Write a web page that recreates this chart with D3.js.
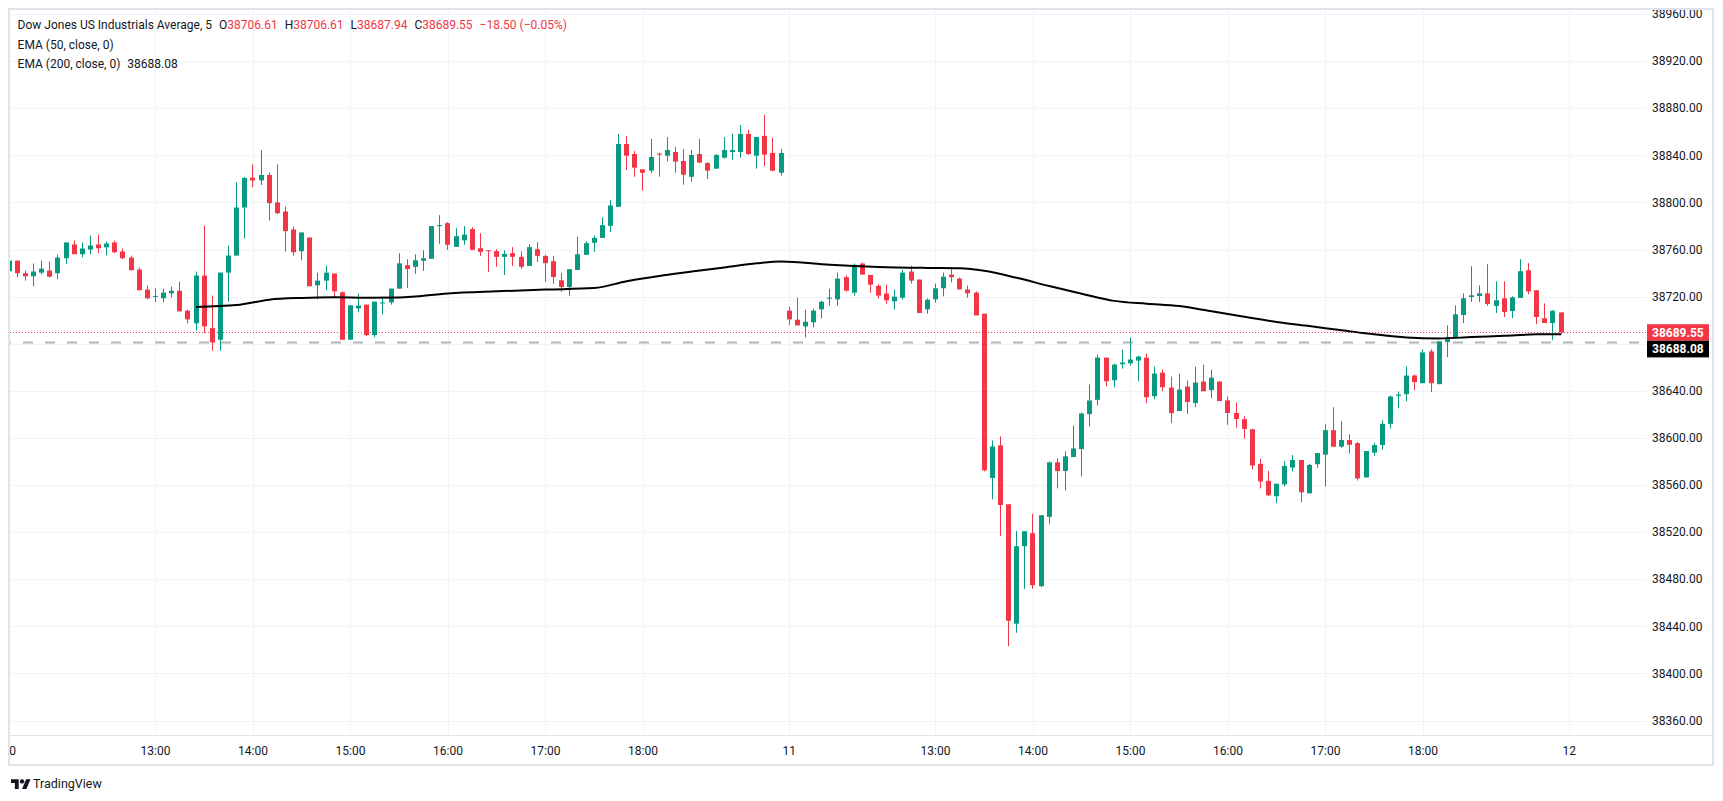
<!DOCTYPE html>
<meta charset='utf-8'>
<style>
  body { margin: 0; background: #ffffff; font-family: Roboto, 'Noto Sans', Arial, sans-serif; }
  .axisY text, .axisX text { fill: #131722; font-size: 12px; }
  .legend text { font-size: 12px; fill: #131722; }
</style>
<body>
<div id='viz'></div>
<script src='https://d3js.org/d3.v7.min.js'></script>
<script>

// Two sessions of 5 minute bars, 11:30 to 19:25
var days = ['10', '11'];
var nextDay = '12';
var hourTicks = ['13:00', '14:00', '15:00', '16:00', '17:00', '18:00'];

var opens = [
  38741.6, 38750.6, 38739.9, 38737.3, 38740.4, 38742.1, 38739.9, 38752.6, 38764.3, 38756.0, 38760.0, 38764.3,
  38761.9, 38766.0, 38758.3, 38753.2, 38743.0, 38726.0, 38719.8, 38718.6, 38722.8, 38725.0, 38708.1, 38697.3,
  38737.9, 38693.3, 38683.4, 38740.4, 38754.9, 38795.7, 38821.0, 38818.7, 38823.3, 38800.0, 38792.3, 38777.0,
  38758.6, 38770.2, 38729.6, 38733.6, 38739.6, 38723.7, 38683.4, 38710.0, 38713.2, 38687.4, 38714.2, 38715.1,
  38726.8, 38746.7, 38745.3, 38750.4, 38752.1, 38779.9, 38782.4, 38762.3, 38767.8, 38777.3, 38761.1, 38759.4,
  38758.6, 38753.8, 38756.9, 38753.8, 38746.1, 38760.3, 38754.6, 38750.1, 38733.9, 38728.2, 38742.7, 38755.5,
  38765.7, 38769.9, 38780.1, 38796.3, 38849.6, 38841.1, 38828.1, 38827.0, 38841.4, 38839.7, 38842.8, 38835.2,
  38821.8, 38841.1, 38833.5, 38828.7, 38838.0, 38842.8, 38842.8, 38858.2, 38839.7, 38856.5, 38842.0, 38825.2,
  38708.1, 38700.4, 38694.7, 38698.2, 38709.2, 38718.6, 38717.7, 38736.5, 38723.4, 38748.1, 38738.4, 38729.1,
  38722.6, 38716.0, 38719.1, 38741.3, 38734.5, 38709.2, 38717.7, 38727.1, 38738.7, 38735.3, 38726.0, 38723.4,
  38705.5, 38566.0, 38593.7, 38543.7, 38442.3, 38508.1, 38519.1, 38474.2, 38533.0, 38579.3, 38571.9, 38583.8,
  38590.6, 38620.2, 38632.4, 38668.2, 38649.0, 38662.6, 38663.4, 38665.7, 38668.2, 38635.5, 38655.5, 38642.8,
  38622.9, 38643.6, 38629.6, 38647.9, 38640.6, 38647.9, 38631.9, 38621.2, 38615.9, 38607.4, 38578.0, 38563.6,
  38550.5, 38560.6, 38574.9, 38581.3, 38553.0, 38577.7, 38585.8, 38606.6, 38592.6, 38598.2, 38595.6, 38566.5,
  38587.5, 38594.0, 38612.0, 38635.8, 38637.2, 38653.0, 38646.5, 38673.5, 38645.7, 38681.4, 38684.5, 38704.4,
  38719.7, 38720.6, 38722.8, 38712.1, 38718.6, 38707.8, 38718.9, 38742.4, 38725.4, 38701.6, 38697.6, 38706.61
];
var highs = [
  38752.0, 38750.6, 38742.1, 38748.1, 38750.6, 38749.8, 38755.7, 38766.0, 38767.7, 38766.0, 38771.9, 38772.8,
  38766.8, 38767.7, 38760.9, 38754.9, 38744.7, 38729.4, 38726.8, 38726.8, 38728.5, 38732.8, 38709.0, 38741.3,
  38780.4, 38720.9, 38740.4, 38763.4, 38817.0, 38821.6, 38832.3, 38844.3, 38825.5, 38832.3, 38796.6, 38779.6,
  38774.5, 38770.2, 38740.4, 38746.4, 38739.6, 38724.5, 38712.6, 38722.6, 38713.2, 38715.7, 38720.0, 38726.8,
  38756.9, 38751.8, 38756.0, 38759.4, 38779.9, 38789.2, 38783.3, 38778.2, 38779.9, 38779.0, 38773.9, 38759.4,
  38760.3, 38759.4, 38762.0, 38758.6, 38764.5, 38766.2, 38755.5, 38754.6, 38740.1, 38743.3, 38770.8, 38767.1,
  38772.0, 38787.5, 38802.0, 38858.2, 38856.5, 38843.7, 38828.1, 38853.9, 38842.3, 38855.6, 38847.1, 38845.4,
  38844.5, 38853.9, 38834.3, 38841.1, 38855.6, 38858.4, 38865.8, 38861.6, 38855.6, 38874.3, 38854.8, 38845.4,
  38711.5, 38719.1, 38708.9, 38709.8, 38716.6, 38726.8, 38740.4, 38737.9, 38748.1, 38748.9, 38738.4, 38730.8,
  38730.2, 38726.0, 38742.7, 38746.1, 38734.5, 38718.6, 38731.1, 38740.4, 38745.0, 38736.2, 38729.4, 38724.3,
  38705.5, 38597.9, 38601.3, 38543.7, 38521.1, 38520.8, 38535.5, 38534.4, 38580.1, 38582.7, 38588.6, 38610.6,
  38621.6, 38645.4, 38670.8, 38668.2, 38663.2, 38675.0, 38685.2, 38669.9, 38671.6, 38660.6, 38658.1, 38652.1,
  38654.6, 38648.7, 38660.5, 38662.2, 38658.0, 38647.9, 38635.2, 38630.2, 38618.4, 38607.4, 38582.2, 38572.1,
  38561.1, 38580.5, 38585.5, 38581.3, 38578.0, 38587.2, 38611.6, 38626.0, 38614.2, 38603.2, 38596.5, 38588.9,
  38596.0, 38615.0, 38636.0, 38639.4, 38660.7, 38653.9, 38675.2, 38675.2, 38682.0, 38695.6, 38712.6, 38722.8,
  38745.8, 38729.6, 38747.5, 38733.0, 38733.0, 38720.3, 38751.8, 38748.4, 38725.4, 38714.3, 38708.4, 38706.61
];
var lows = [
  38740.0, 38736.5, 38733.6, 38728.8, 38738.7, 38736.2, 38734.8, 38747.5, 38756.0, 38753.5, 38756.0, 38756.9,
  38755.2, 38756.9, 38751.8, 38742.4, 38725.4, 38717.7, 38715.2, 38715.2, 38719.4, 38707.5, 38697.3, 38691.3,
  38689.1, 38674.0, 38674.0, 38715.7, 38754.9, 38769.4, 38813.0, 38814.8, 38784.7, 38790.1, 38758.3, 38754.9,
  38750.9, 38728.8, 38717.7, 38725.4, 38718.6, 38683.4, 38683.4, 38706.7, 38686.5, 38685.4, 38705.0, 38713.2,
  38726.8, 38727.4, 38739.3, 38741.8, 38752.1, 38764.8, 38759.7, 38762.3, 38764.0, 38759.7, 38754.6, 38741.0,
  38745.3, 38738.4, 38746.1, 38743.5, 38746.1, 38749.5, 38732.5, 38730.8, 38724.0, 38720.6, 38742.7, 38755.5,
  38758.0, 38769.9, 38775.0, 38796.3, 38827.5, 38821.8, 38809.9, 38825.0, 38821.8, 38834.9, 38825.2, 38815.0,
  38817.6, 38833.8, 38819.9, 38828.7, 38837.2, 38836.3, 38838.0, 38840.3, 38828.7, 38830.9, 38826.9, 38822.7,
  38695.9, 38695.6, 38685.4, 38693.9, 38701.6, 38712.3, 38712.3, 38724.3, 38720.9, 38738.7, 38723.4, 38718.3,
  38714.0, 38709.0, 38717.4, 38731.1, 38706.1, 38705.5, 38714.9, 38720.3, 38732.2, 38726.2, 38719.1, 38704.1,
  38571.6, 38547.9, 38516.6, 38423.3, 38434.6, 38471.9, 38471.9, 38473.3, 38527.0, 38557.2, 38555.5, 38583.8,
  38567.4, 38609.8, 38627.6, 38644.0, 38643.1, 38658.9, 38661.5, 38648.2, 38629.5, 38632.9, 38639.7, 38612.6,
  38622.9, 38620.4, 38626.2, 38639.7, 38633.8, 38631.3, 38611.1, 38608.6, 38599.3, 38573.2, 38557.2, 38550.5,
  38544.6, 38558.9, 38571.5, 38545.4, 38553.0, 38574.6, 38558.9, 38592.6, 38591.7, 38586.7, 38563.9, 38566.5,
  38585.0, 38590.0, 38608.0, 38625.2, 38631.2, 38640.6, 38646.5, 38638.9, 38645.7, 38668.6, 38684.5, 38697.6,
  38715.5, 38715.5, 38712.1, 38706.1, 38702.7, 38701.8, 38718.9, 38722.0, 38696.7, 38697.6, 38683.1, 38687.94
];
var closes = [
  38750.6, 38739.9, 38737.3, 38741.3, 38743.8, 38737.0, 38753.2, 38766.0, 38756.0, 38760.9, 38763.4, 38761.1,
  38765.1, 38757.7, 38752.6, 38742.4, 38725.4, 38718.6, 38720.6, 38723.4, 38725.0, 38707.5, 38700.7, 38737.9,
  38694.8, 38681.1, 38740.4, 38754.9, 38795.7, 38820.7, 38818.7, 38823.3, 38799.4, 38790.9, 38775.6, 38757.7,
  38774.5, 38728.8, 38733.6, 38740.4, 38724.5, 38683.4, 38712.6, 38712.4, 38687.4, 38715.7, 38715.1, 38726.8,
  38748.3, 38743.5, 38750.9, 38752.6, 38779.9, 38780.7, 38764.0, 38771.3, 38772.7, 38759.7, 38758.0, 38758.6,
  38753.8, 38756.3, 38753.8, 38745.3, 38762.0, 38754.6, 38748.4, 38736.7, 38728.2, 38743.3, 38756.0, 38765.4,
  38769.9, 38780.7, 38797.4, 38849.6, 38839.7, 38829.5, 38825.2, 38838.6, 38840.6, 38844.5, 38834.6, 38823.5,
  38840.3, 38833.8, 38827.0, 38840.3, 38844.5, 38844.5, 38858.2, 38841.1, 38855.6, 38840.6, 38826.9, 38842.0,
  38700.7, 38695.6, 38698.7, 38708.1, 38715.7, 38719.1, 38735.3, 38725.1, 38747.0, 38738.7, 38730.2, 38720.9,
  38716.9, 38720.0, 38740.4, 38733.6, 38706.1, 38717.4, 38727.1, 38737.0, 38736.5, 38726.2, 38722.8, 38704.1,
  38572.5, 38592.8, 38543.1, 38444.8, 38508.1, 38520.8, 38475.0, 38534.4, 38579.3, 38571.9, 38584.4, 38591.1,
  38620.8, 38631.8, 38668.2, 38648.2, 38662.3, 38664.0, 38666.6, 38669.1, 38634.6, 38654.7, 38643.1, 38621.1,
  38641.1, 38630.5, 38647.0, 38639.7, 38651.2, 38631.3, 38621.2, 38616.1, 38607.7, 38576.6, 38563.1, 38551.3,
  38561.1, 38576.3, 38581.3, 38553.8, 38577.1, 38587.2, 38606.6, 38592.6, 38598.2, 38594.2, 38565.6, 38588.9,
  38594.0, 38612.0, 38635.2, 38636.9, 38653.0, 38647.4, 38672.6, 38646.5, 38682.0, 38685.4, 38705.0, 38718.6,
  38721.1, 38722.8, 38713.8, 38716.9, 38707.0, 38719.4, 38741.6, 38724.5, 38702.7, 38697.6, 38708.05, 38689.55
];

// EMA (200) at a few bars
var emaBars   = [23, 28, 32, 36, 40, 44, 48, 54, 60, 66, 72, 76, 80, 84, 88, 92, 95,
                 101, 107, 113, 117, 120, 124, 128, 132, 136, 140, 144, 148, 152, 156, 160,
                 164, 168, 172, 176, 180, 184, 188, 191];
var emaValues = [38711.3, 38712.8, 38717.4, 38718.9, 38719.4, 38719.1, 38719.3, 38722.7, 38724.5,
                 38726.0, 38727.3, 38733.1, 38737.6, 38741.3, 38744.8, 38748.3, 38749.8,
                 38747.0, 38745.2, 38744.4, 38744.1, 38742.0, 38736.0, 38729.0, 38722.5, 38716.4,
                 38714.0, 38712.0, 38707.5, 38703.0, 38698.5, 38695.0, 38691.5, 38688.0, 38685.3,
                 38684.5, 38685.7, 38686.8, 38688.0, 38688.08];

var priceTicks = [38360, 38400, 38440, 38480, 38520, 38560, 38600, 38640, 38680,
                  38720, 38760, 38800, 38840, 38880, 38920, 38960];
var dashedLevel = 38681.0;

var upColor = '#089981', downColor = '#F23645', textColor = '#131722';

// Bar times: each session 11:30 .. 19:25
var bars = [];
days.forEach(function(day) {
  for (var m = 11 * 60 + 30; m < 19 * 60 + 30; m += 5) {
    var t = String(Math.floor(m / 60)).padStart(2, '0') + ':' + String(m % 60).padStart(2, '0');
    var i = bars.length;
    bars.push({day: day, time: t, o: opens[i], h: highs[i], l: lows[i], c: closes[i], i: i});
  }
});

// Layout
var W = 1723, H = 801;
var plot = {left: 10, right: 1647, top: 10, bottom: 735};
var frame = {left: 9, right: 1713, top: 9, bottom: 765};
var firstBarX = 9.2, barSpacing = 8.125;

var x = d3.scaleLinear().domain([0, 1]).range([firstBarX, firstBarX + barSpacing]);
var y = d3.scaleLinear().domain([38360, 38960]).range([720.6, 14.0]);

var svg = d3.select('#viz').append('svg')
    .attr('width', W)
    .attr('height', H)
    .style('display', 'block');

var defs = svg.append('defs');
defs.append('clipPath').attr('id', 'plotClip').append('rect')
    .attr('x', plot.left).attr('y', plot.top)
    .attr('width', plot.right - plot.left).attr('height', plot.bottom - plot.top);
defs.append('clipPath').attr('id', 'axisXClip').append('rect')
    .attr('x', plot.left).attr('y', plot.bottom)
    .attr('width', frame.right - plot.left).attr('height', frame.bottom - plot.bottom);
defs.append('clipPath').attr('id', 'axisYClip').append('rect')
    .attr('x', plot.right).attr('y', plot.top)
    .attr('width', frame.right - plot.right).attr('height', plot.bottom - plot.top);

// Time ticks: day start plus the hourly labels
var xTicks = [];
bars.forEach(function(b) {
  if (b.time === '11:30') xTicks.push({i: b.i, label: b.day});
  else if (hourTicks.indexOf(b.time) >= 0) xTicks.push({i: b.i, label: b.time});
});
xTicks.push({i: bars.length, label: nextDay});

// Grid
var grid = svg.append('g').attr('clip-path', 'url(#plotClip)');
grid.selectAll('.hgrid').data(priceTicks).enter().append('line')
    .attr('x1', plot.left).attr('x2', plot.right)
    .attr('y1', function(d) { return Math.round(y(d)) + 0.5; })
    .attr('y2', function(d) { return Math.round(y(d)) + 0.5; })
    .attr('stroke', '#f0f3fa');
grid.selectAll('.vgrid').data(xTicks).enter().append('line')
    .attr('x1', function(d) { return Math.round(x(d.i)) + 0.5; })
    .attr('x2', function(d) { return Math.round(x(d.i)) + 0.5; })
    .attr('y1', plot.top).attr('y2', plot.bottom)
    .attr('stroke', '#f0f3fa');

var last = bars[bars.length - 1];
var emaLast = emaValues[emaValues.length - 1];

// Reference lines
var levels = svg.append('g').attr('clip-path', 'url(#plotClip)');
levels.append('line')
    .attr('x1', plot.left - 9).attr('x2', plot.right)
    .attr('y1', y(dashedLevel)).attr('y2', y(dashedLevel))
    .attr('stroke', '#b2b5be').attr('stroke-width', 2)
    .attr('stroke-dasharray', '10 12');
levels.append('line')
    .attr('x1', plot.left).attr('x2', plot.right)
    .attr('y1', Math.round(y(last.c)) + 0.5).attr('y2', Math.round(y(last.c)) + 0.5)
    .attr('stroke', downColor).attr('stroke-width', 1)
    .attr('stroke-dasharray', '1 2');

// Candles
var candles = svg.append('g').attr('clip-path', 'url(#plotClip)')
    .selectAll('g').data(bars).enter().append('g')
    .attr('fill', function(d) { return d.c >= d.o ? upColor : downColor; });

candles.append('rect')
    .attr('x', function(d) { return Math.round(x(d.i) - 2.5) + 2; })
    .attr('width', 1)
    .attr('y', function(d) { return y(d.h); })
    .attr('height', function(d) { return Math.max(1, y(d.l) - y(d.h)); });

candles.append('rect')
    .attr('x', function(d) { return Math.round(x(d.i) - 2.5); })
    .attr('width', 5)
    .attr('y', function(d) { return y(Math.max(d.o, d.c)); })
    .attr('height', function(d) { return Math.max(1, Math.abs(y(d.o) - y(d.c))); });

// EMA line
var emaPoints = emaBars.map(function(b, k) { return [b, emaValues[k]]; });
svg.append('path')
    .attr('clip-path', 'url(#plotClip)')
    .datum(emaPoints)
    .attr('fill', 'none')
    .attr('stroke', '#000000')
    .attr('stroke-width', 2)
    .attr('d', d3.line()
      .x(function(d) { return x(d[0]); })
      .y(function(d) { return y(d[1]); })
      .curve(d3.curveMonotoneX));

// Price axis
var tagH = 16.6;
var tags = [
  {value: last.c, y: y(last.c), fill: downColor},
  {value: emaLast, y: y(last.c) + tagH, fill: '#000000'}
];
var axisY = svg.append('g').attr('class', 'axisY').attr('clip-path', 'url(#axisYClip)');
axisY.selectAll('text').data(priceTicks.filter(function(p) {
      return tags.every(function(t) { return Math.abs(y(p) - t.y) > 12; });
    }))
    .enter().append('text')
    .attr('x', 1652)
    .attr('y', function(d) { return y(d); })
    .attr('dy', '0.35em')
    .text(function(d) { return d3.format('.2f')(d); });

var tagG = axisY.selectAll('.tag').data(tags).enter().append('g');
tagG.append('rect')
    .attr('x', 1647).attr('width', 62)
    .attr('y', function(d) { return d.y - tagH / 2; })
    .attr('height', tagH)
    .attr('fill', function(d) { return d.fill; });
tagG.append('text')
    .attr('x', 1652)
    .attr('y', function(d) { return d.y; })
    .attr('dy', '0.35em')
    .style('fill', '#ffffff')
    .style('font-weight', 'bold')
    .text(function(d) { return d3.format('.2f')(d.value); });

// Time axis
svg.append('g').attr('class', 'axisX').attr('clip-path', 'url(#axisXClip)')
  .selectAll('text').data(xTicks).enter().append('text')
    .attr('x', function(d) { return x(d.i); })
    .attr('y', 751)
    .attr('dy', '0.35em')
    .attr('text-anchor', 'middle')
    .text(function(d) { return d.label; });

// Frame lines
svg.append('line')
    .attr('x1', frame.left).attr('x2', frame.right)
    .attr('y1', plot.bottom + 0.5).attr('y2', plot.bottom + 0.5)
    .attr('stroke', '#e0e3eb');
svg.append('rect')
    .attr('x', frame.left).attr('y', frame.top)
    .attr('width', frame.right - frame.left).attr('height', frame.bottom - frame.top)
    .attr('fill', 'none').attr('stroke', '#e0e3eb').attr('stroke-width', 2);

// Legend
var fmt = d3.format('.2f');
var prev = bars[bars.length - 2].c;
var chg = last.c - prev;
var legend = svg.append('g').attr('class', 'legend');
var l1 = legend.append('text').attr('x', 17.6).attr('y', 29);
l1.append('tspan').text('Dow Jones US Industrials Average, 5');
[['O', last.o], ['H', last.h], ['L', last.l], ['C', last.c]].forEach(function(p) {
  l1.append('tspan').attr('dx', 7).text(p[0]);
  l1.append('tspan').style('fill', downColor).text(fmt(p[1]));
});
l1.append('tspan').attr('dx', 7).style('fill', downColor)
  .text(fmt(chg).replace('-', '\u2212') + ' (' + fmt(chg / prev * 100).replace('-', '\u2212') + '%)');

legend.append('text').attr('x', 17.6).attr('y', 49).text('EMA (50, close, 0)');
var l3 = legend.append('text').attr('x', 17.6).attr('y', 68);
l3.append('tspan').text('EMA (200, close, 0)');
l3.append('tspan').attr('dx', 7).text(fmt(emaLast));

// TradingView mark
var logo = svg.append('g').attr('transform', 'translate(11,777) scale(0.55)').attr('fill', textColor);
logo.append('path').attr('d', 'M14 22H7V11H0V4h14v18zM28 22h-8l7.5-18h8L28 22z');
logo.append('circle').attr('cx', 20).attr('cy', 8).attr('r', 4);
svg.append('text')
    .attr('x', 33).attr('y', 788)
    .style('font-size', '12.5px')
    .style('fill', textColor)
    .text('TradingView');

</script>
</body>
